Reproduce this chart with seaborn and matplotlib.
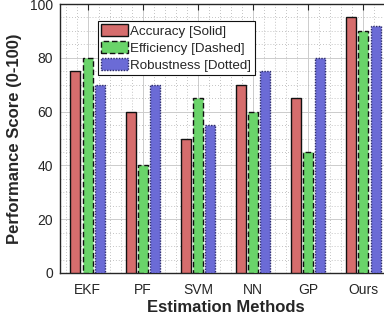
import matplotlib
matplotlib.use("Agg")
import matplotlib.pyplot as plt
from matplotlib.ticker import MultipleLocator
import pandas as pd
import seaborn as sns

METHODS = ["EKF", "PF", "SVM", "NN", "GP", "Ours"]
ACCURACY = [75, 60, 50, 70, 65, 95]
EFFICIENCY = [80, 40, 65, 60, 45, 90]
ROBUSTNESS = [70, 70, 55, 75, 80, 92]

SERIES = ["Accuracy [Solid]", "Efficiency [Dashed]", "Robustness [Dotted]"]
COLORS = ["#d66d6d", "#6ad46a", "#6b6bd6"]
EDGES = ["#111111", "#111111", "#2a2a6a"]
STYLES = ["-", (0, (4, 2)), (0, (1, 1))]

df = pd.DataFrame({
    "Methode": METHODS * 3,
    "Wert": ACCURACY + EFFICIENCY + ROBUSTNESS,
    "Serie": [s for s in SERIES for _ in METHODS],
})

sns.set_style("white")
plt.rcParams["font.family"] = ["Liberation Sans", "DejaVu Sans"]

fig = plt.figure(figsize=(3.84, 3.25), dpi=100)
ax = fig.add_axes([60 / 384, 52 / 325, 331 / 384, 269 / 325])

sns.barplot(
    data=df,
    x="Methode",
    y="Wert",
    hue="Serie",
    hue_order=SERIES,
    palette=COLORS,
    width=0.66,
    gap=0.18,
    saturation=1,
    legend=False,
    ax=ax,
)

# Kantenstil je Serie setzen
for container, style, edge in zip(ax.containers, STYLES, EDGES):
    for patch in container:
        patch.set_edgecolor(edge)
        patch.set_linewidth(1.0)
        patch.set_linestyle(style)
        patch.set_zorder(3)

ax.set_xlim(-0.5, 5.5)
ax.set_ylim(0, 100)
ax.yaxis.set_major_locator(MultipleLocator(20))
ax.yaxis.set_minor_locator(MultipleLocator(5))
ax.xaxis.set_minor_locator(MultipleLocator(0.2))

ax.grid(True, which="major", color="#cccccc", linestyle="-", linewidth=0.7, zorder=0)
ax.grid(True, which="minor", color="#b0b0b0", linestyle=(0, (1, 2.5)), linewidth=0.6, zorder=0)
ax.set_axisbelow(True)

ax.tick_params(axis="both", which="major", direction="in", length=4,
               top=True, right=True, labelsize=10, labelcolor="#262626", color="#262626")
ax.tick_params(axis="x", which="major", pad=7)
ax.tick_params(axis="y", which="major", pad=5)
ax.tick_params(axis="both", which="minor", length=0)

for spine in ax.spines.values():
    spine.set_color("#262626")
    spine.set_linewidth(1.0)

ax.set_xlabel("Estimation Methods", fontsize=12, fontweight="bold", color="#262626", labelpad=2)
ax.set_ylabel("Performance Score (0-100)", fontsize=12, fontweight="bold", color="#262626", labelpad=6)

legend = ax.legend(
    handles=list(ax.containers),
    labels=SERIES,
    loc="upper left",
    bbox_to_anchor=(0.114, 0.937),
    fontsize=9.6,
    frameon=True,
    fancybox=False,
    framealpha=1,
    edgecolor="#111111",
    handlelength=2.0,
    handleheight=1.0,
    handletextpad=0.2,
    labelspacing=0.25,
    borderpad=0.25,
    borderaxespad=0,
)
legend.get_frame().set_linewidth(0.8)
legend.set_zorder(5)

fig.savefig("out.png", dpi=100)
